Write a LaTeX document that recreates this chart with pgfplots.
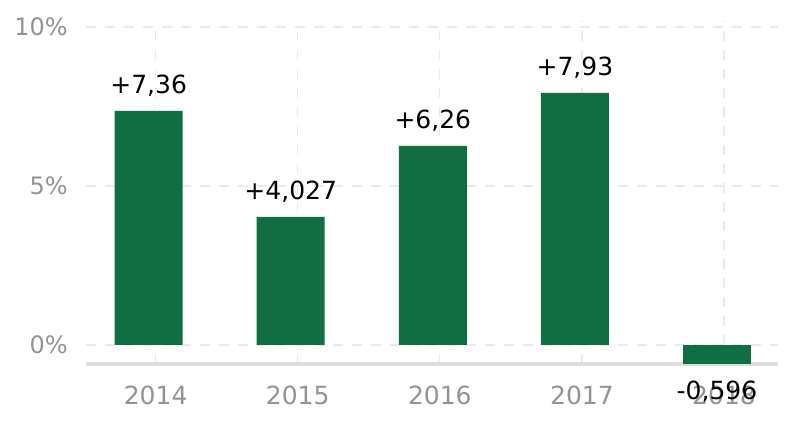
\documentclass[border=0pt]{standalone}
\usepackage{fontspec}
\setmainfont{DejaVu Sans}
\usepackage{pgfplots}
\pgfplotsset{compat=1.18}
\definecolor{barg}{HTML}{0F6E42}
\definecolor{tickg}{HTML}{939393}
\definecolor{gridg}{HTML}{EAEAEA}
\definecolor{axg}{HTML}{DDDDDD}
\begin{document}
\begin{tikzpicture}[x=1pt,y=1pt]
\begin{axis}[
  at={(86pt,64pt)}, anchor=south west,
  scale only axis, width=692pt, height=343.4pt,
  xmin=-0.49, xmax=4.38, ymin=-0.6, ymax=10.2,
  axis x line*=bottom, axis y line*=left,
  y axis line style={draw=none},
  x axis line style={draw=axg, line width=4pt, -},
  major tick length=0pt,
  xtick={0,1,2,3,4}, xticklabels={2014,2015,2016,2017,2018},
  ytick={0,5,10}, yticklabels={0\%,5\%,10\%},
  grid=major,
  major grid style={draw=gridg, line width=1.2pt, dash pattern=on 10pt off 9pt},
  xticklabel style={font=\fontsize{25}{30}\selectfont, text=tickg, anchor=north, inner sep=0pt, yshift=-22pt},
  yticklabel style={font=\fontsize{24}{29}\selectfont, text=tickg, anchor=east, inner sep=0pt, xshift=-18pt},
  /pgf/number format/assume math mode=true,
  ybar, bar width=68pt, bar shift=-7pt,
  point meta=explicit symbolic,
  nodes near coords,
  every node near coord/.append style={font=\fontsize{25}{30}\selectfont, text=black, inner sep=14pt},
  axis on top=false,
]
\addplot[draw=none, fill=barg] table[x=x, y=y, meta=lab] {
x y lab
0 7.36 +7,36
1 4.027 +4,027
2 6.26 +6,26
3 7.93 +7,93
};
\addplot[draw=none, fill=barg, every node near coord/.append style={anchor=north, inner sep=17pt}] table[x=x, y=y, meta=lab] {
x y lab
4 -0.596 -0,596
};
\end{axis}
\pgfresetboundingbox
\path[use as bounding box] (0,0) rectangle (808,428);
\end{tikzpicture}
\end{document}
